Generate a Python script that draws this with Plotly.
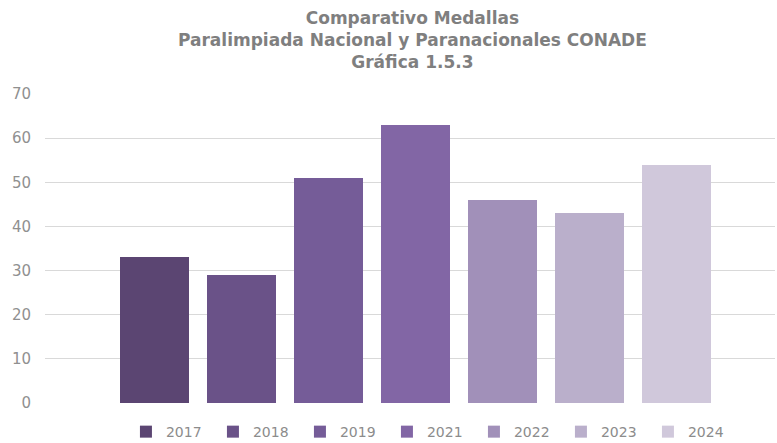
import plotly.graph_objects as go

years = ["2017", "2018", "2019", "2021", "2022", "2023", "2024"]
medals = [33, 29, 51, 63, 46, 43, 54]
colors = ["#5B4572", "#6A5288", "#755C98", "#8266A5", "#A190B9", "#BAAFCB", "#D0C8DB"]

fig = go.Figure()
for y, v, c in zip(years, medals, colors):
    fig.add_trace(go.Bar(x=[y], y=[v], name=y, marker=dict(color=c, line=dict(width=0)),
                         width=0.793))

fig.add_annotation(
    text="<b>Comparativo Medallas<br>Paralimpiada Nacional y Paranacionales CONADE<br>Gráfica 1.5.3</b>",
    xref="paper", yref="paper", x=0.503, y=1.285, xanchor="center", yanchor="top",
    showarrow=False, align="center",
    font=dict(family="DejaVu Sans", size=17, color="#7F7F7F"),
)

fig.update_layout(
    width=777, height=443,
    barmode="overlay",
    paper_bgcolor="white", plot_bgcolor="white",
    margin=dict(l=45, r=2, t=94, b=40, autoexpand=False),
    font=dict(family="DejaVu Sans", color="#8C8C8C", size=14),
    showlegend=True,
    legend=dict(orientation="h", x=0.528, xanchor="center", y=-0.094, yanchor="middle",
                font=dict(size=14, color="#8C8C8C"), itemwidth=30, traceorder="normal",
                entrywidth=42, entrywidthmode="pixels", itemclick=False),
    xaxis=dict(type="category", categoryorder="array", categoryarray=years,
               showticklabels=False, showgrid=False, zeroline=False, showline=False,
               range=[-1.26, 7.13], ticks=""),
    yaxis=dict(range=[0, 70], dtick=10, showgrid=True, gridcolor="#D9D9D9", gridwidth=1,
               zeroline=False, showline=False, ticks="", ticklabelstandoff=13,
               tickfont=dict(size=15, color="#909090")),
    bargap=0,
)

fig.write_html("out.html", config={"displayModeBar": False},
               post_script="document.body.style.margin='0';document.body.style.overflow='hidden';")
